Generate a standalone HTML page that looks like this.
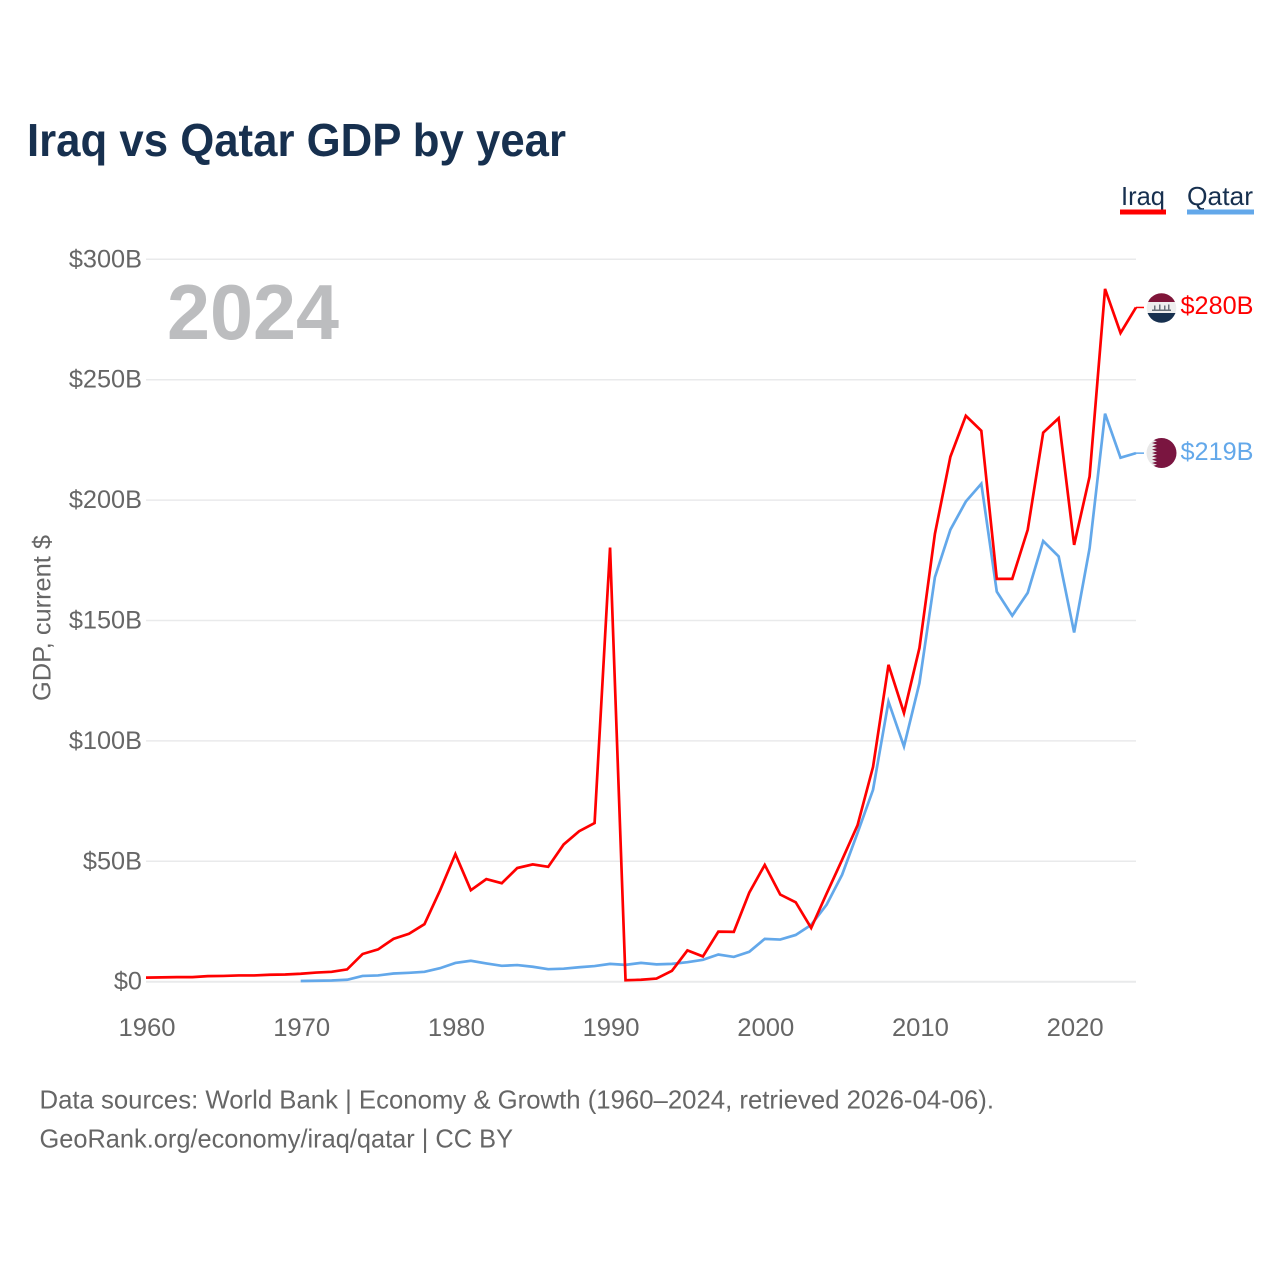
<!DOCTYPE html>
<html lang="en">
<head>
<meta charset="utf-8">
<title>Iraq vs Qatar GDP by year</title>
<style>
html,body{margin:0;padding:0;background:#fff;width:1280px;height:1280px;overflow:hidden}
svg{display:block;font-family:"Liberation Sans",sans-serif}
</style>
</head>
<body>
<svg id="chart" xmlns="http://www.w3.org/2000/svg" width="1280" height="1280" viewBox="0 0 1280 1280">
  <rect width="1280" height="1280" fill="#fff"/>
  <text x="27" y="156" font-size="46" font-weight="700" fill="#17304f" textLength="539" lengthAdjust="spacingAndGlyphs">Iraq vs Qatar GDP by year</text>

  <g id="grid"></g>
  <g id="yticks"></g>
  <g id="xticks"></g>

  <text transform="translate(50.500,618) rotate(-90)" text-anchor="middle" font-size="25" fill="#666" textLength="166" lengthAdjust="spacingAndGlyphs">GDP, current $</text>
  <text x="167" y="339" font-size="78" font-weight="700" fill="#bcbdbf" textLength="172" lengthAdjust="spacingAndGlyphs">2024</text>

  <g id="series"></g>

  <g>
    <g>
      <text x="1121" y="205" font-size="26" fill="#17304f" textLength="44" lengthAdjust="spacingAndGlyphs">Iraq</text>
      <rect x="1120" y="209.500" width="46" height="5" fill="#ff0000"/>
    </g>
    <g>
      <text x="1187" y="205" font-size="26" fill="#17304f" textLength="66" lengthAdjust="spacingAndGlyphs">Qatar</text>
      <rect x="1187" y="209.500" width="67" height="5" fill="#63a8ea"/>
    </g>
  </g>

  <defs>
    <clipPath id="clip-iraq"><circle cx="1161.500" cy="308" r="14.800"/></clipPath>
    <clipPath id="clip-qatar"><circle cx="1161.500" cy="453" r="15"/></clipPath>
  </defs>

  <g clip-path="url(#clip-iraq)">
    <rect x="1146" y="292" width="31" height="10" fill="#7f1539"/>
    <rect x="1146" y="302" width="31" height="11" fill="#eeeeee"/>
    <rect x="1146" y="313" width="31" height="11" fill="#17304f"/>
    <rect x="1152" y="309.500" width="19" height="1.500" fill="#6a727b"/>
    <rect x="1154" y="305.500" width="1.500" height="4" fill="#6a727b"/>
    <rect x="1159" y="304.500" width="1.500" height="5" fill="#6a727b"/>
    <rect x="1164" y="305.500" width="1.500" height="4" fill="#6a727b"/>
    <rect x="1168" y="304.500" width="1.500" height="5" fill="#6a727b"/>
  </g>
  <g clip-path="url(#clip-qatar)">
    <rect x="1146" y="437" width="31" height="32" fill="#e8e8e8"/>
    <polygon id="qatar-serration" fill="#7a1540" points=""/>
  </g>

  <text x="1180.500" y="314" font-size="25" fill="#ff0000" textLength="73" lengthAdjust="spacingAndGlyphs">$280B</text>
  <text x="1180.500" y="460" font-size="25" fill="#63a8ea" textLength="73" lengthAdjust="spacingAndGlyphs">$219B</text>

  <text x="39.500" y="1108.500" font-size="26" fill="#666" textLength="954.500" lengthAdjust="spacingAndGlyphs">Data sources: World Bank | Economy &amp; Growth (1960–2024, retrieved 2026-04-06).</text>
  <text x="39.500" y="1147.500" font-size="26" fill="#666" textLength="473.500" lengthAdjust="spacingAndGlyphs">GeoRank.org/economy/iraq/qatar | CC BY</text>
</svg>

<script>
const iraqStartYear = 1960;
const qatarStartYear = 1970;
const iraqValues = [1.7,1.8,1.9,1.9,2.3,2.4,2.6,2.6,2.9,3.0,3.3,3.8,4.1,5.1,11.5,13.4,17.8,19.9,23.9,37.8,53,38,42.6,40.9,47.2,48.7,47.7,57,62.5,65.9,180.3,0.6,0.8,1.3,4.5,13,10.5,20.8,20.7,37,48.5,36.2,33,22.3,36.6,50.6,65,89.2,131.6,111.6,138.6,186,218,235,228.8,167.3,167.3,187.7,228,234,181.4,209.8,287.7,269.4,280];
const qatarValues = [0.3,0.4,0.5,0.8,2.4,2.6,3.4,3.7,4.1,5.6,7.8,8.7,7.6,6.6,6.9,6.2,5.2,5.4,6.0,6.5,7.4,7.0,7.8,7.2,7.4,8.1,9.1,11.3,10.3,12.4,17.8,17.5,19.4,23.6,32,44.4,61.8,79.7,116.3,97.7,124,168,187.7,199.4,206.8,162,152,161.5,183,176.6,145,180,235.9,217.6,219.5];
const yTickValues = [0,50,100,150,200,250,300];
const yTickLabels = ["$0","$50B","$100B","$150B","$200B","$250B","$300B"];
const xTickYears = [1960,1970,1980,1990,2000,2010,2020];

const NS = "http://www.w3.org/2000/svg";
const xScale = year => 146 + (year - 1960) * (1136 - 146) / 64;
const yScale = v => 981.7 - v * (981.7 - 259.3) / 300;

function make(tag, parent, attrs) {
  const el = document.createElementNS(NS, tag);
  for (const k in attrs) el.setAttribute(k, attrs[k]);
  parent.appendChild(el);
  return el;
}

const grid = document.getElementById("grid");
const yticks = document.getElementById("yticks");
const xticks = document.getElementById("xticks");
const series = document.getElementById("series");

yTickValues.forEach((v, i) => {
  const line = make("line", grid, {x1: 146, x2: 1136, y1: yScale(v), y2: yScale(v), stroke: "#e9eaeb", "stroke-width": v === 0 ? 2 : 1.500});
  
  
  const t = make("text", yticks, {x: 142, y: yScale(v) + 8, "text-anchor": "end", "font-size": 25.300, fill: "#666"});
  t.textContent = yTickLabels[i];
  
  
});

xTickYears.forEach(year => {
  const t = make("text", xticks, {x: xScale(year) + 1, y: 1036, "text-anchor": "middle", "font-size": 25, fill: "#666", textLength: 57, lengthAdjust: "spacingAndGlyphs"});
  t.textContent = String(year);
  
  
});

function pathFor(values, startYear) {
  return values.map((v, i) => xScale(startYear + i).toFixed(2) + "," + yScale(v).toFixed(2)).join(" ");
}

const lineQatar = make("polyline", series, {points: pathFor(qatarValues, qatarStartYear), fill: "none", stroke: "#63a8ea", "stroke-width": 2.700, "stroke-linejoin": "miter"});



const lineIraq = make("polyline", series, {points: pathFor(iraqValues, iraqStartYear), fill: "none", stroke: "#ff0000", "stroke-width": 2.700, "stroke-linejoin": "miter"});



const iraqLast = iraqValues[iraqValues.length - 1];
const qatarLast = qatarValues[qatarValues.length - 1];

const connIraq = make("line", series, {x1: xScale(2024), x2: 1144, y1: yScale(iraqLast), y2: yScale(iraqLast), stroke: "#ff0000", "stroke-width": 1.500});



const connQatar = make("line", series, {x1: xScale(2024), x2: 1144, y1: yScale(qatarLast), y2: yScale(qatarLast), stroke: "#63a8ea", "stroke-width": 1.500});



/* Qatar flag serrated edge */
(function () {
  const top = 438, h = 30, n = 9, pts = [];
  pts.push("1178," + top);
  pts.push("1157," + top);
  for (let i = 0; i < n; i++) {
    pts.push("1152," + (top + (i + 0.5) * h / n));
    pts.push("1157," + (top + (i + 1) * h / n));
  }
  pts.push("1178," + (top + h));
  document.getElementById("qatar-serration").setAttribute("points", pts.join(" "));
})();
</script>
</body>
</html>
